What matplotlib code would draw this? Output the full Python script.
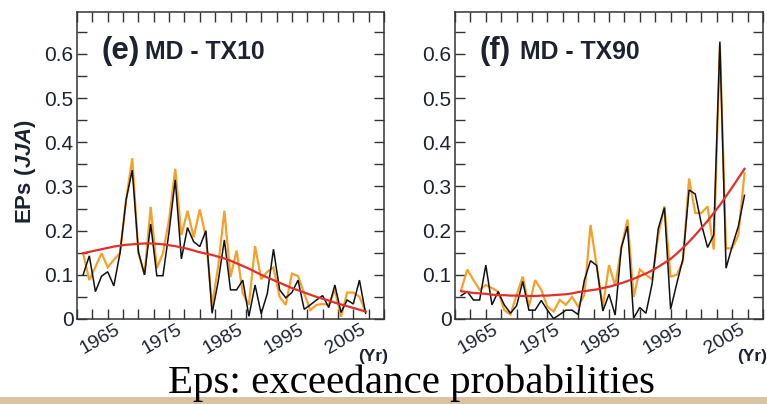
import matplotlib
matplotlib.use("Agg")
import matplotlib.pyplot as plt
from matplotlib.ticker import MultipleLocator, FixedLocator
from matplotlib.transforms import ScaledTranslation
import matplotlib.patches as mpatches

plt.rcParams['font.family'] = ['Liberation Sans', 'DejaVu Sans']
plt.rcParams['mathtext.fontset'] = 'custom'
plt.rcParams['mathtext.rm'] = 'Liberation Sans:bold'
plt.rcParams['mathtext.bf'] = 'Liberation Sans:bold'
plt.rcParams['mathtext.it'] = 'Liberation Sans:italic:bold'

years = list(range(1961, 2008))

tx10_black = [0.100, 0.143, 0.062, 0.097, 0.107, 0.075, 0.149, 0.270, 0.337, 0.152,
              0.100, 0.215, 0.098, 0.098, 0.198, 0.315, 0.136, 0.207, 0.175, 0.164,
              0.200, 0.013, 0.085, 0.179, 0.066, 0.066, 0.088, 0.006, 0.077, 0.012,
              0.058, 0.158, 0.066, 0.048, 0.060, 0.088, 0.022, 0.032, 0.043, 0.053,
              0.026, 0.077, 0.015, 0.043, 0.034, 0.088, 0.013]
tx10_orange = [0.149, 0.088, 0.118, 0.149, 0.117, 0.134, 0.149, 0.270, 0.364, 0.150,
               0.100, 0.254, 0.115, 0.149, 0.225, 0.340, 0.190, 0.245, 0.185, 0.248,
               0.185, 0.030, 0.120, 0.245, 0.095, 0.155, 0.058, 0.032, 0.165, 0.090,
               0.107, 0.117, 0.050, 0.032, 0.103, 0.097, 0.058, 0.020, 0.032, 0.034,
               0.032, 0.066, 0.005, 0.060, 0.060, 0.050, 0.017]
tx10_trend = [0.149, 0.152, 0.155, 0.158, 0.161, 0.164, 0.166, 0.168, 0.169, 0.170,
              0.171, 0.171, 0.170, 0.169, 0.167, 0.165, 0.162, 0.159, 0.155, 0.151,
              0.148, 0.145, 0.141, 0.137, 0.132, 0.126, 0.120, 0.114, 0.107, 0.100,
              0.094, 0.088, 0.082, 0.076, 0.070, 0.065, 0.060, 0.055, 0.050, 0.046,
              0.042, 0.037, 0.033, 0.029, 0.025, 0.021, 0.017]

tx90_black = [0.053, 0.062, 0.043, 0.043, 0.122, 0.032, 0.062, 0.032, 0.013, 0.030,
              0.085, 0.020, 0.020, 0.042, 0.020, 0.001, 0.010, 0.020, 0.020, 0.010,
              0.088, 0.132, 0.121, 0.018, 0.056, 0.009, 0.162, 0.210, 0.002, 0.026,
              0.013, 0.080, 0.205, 0.252, 0.022, 0.080, 0.136, 0.292, 0.283, 0.215,
              0.162, 0.190, 0.628, 0.115, 0.165, 0.210, 0.280]
tx90_orange = [0.066, 0.112, 0.088, 0.066, 0.077, 0.070, 0.062, 0.020, 0.010, 0.054,
               0.096, 0.028, 0.088, 0.066, 0.028, 0.017, 0.043, 0.032, 0.050, 0.028,
               0.055, 0.213, 0.120, 0.028, 0.122, 0.075, 0.160, 0.225, 0.050, 0.112,
               0.100, 0.090, 0.190, 0.255, 0.096, 0.100, 0.130, 0.318, 0.240, 0.240,
               0.255, 0.157, 0.620, 0.160, 0.160, 0.190, 0.330]
tx90_trend = [0.063, 0.061, 0.059, 0.058, 0.057, 0.055, 0.054, 0.054, 0.053, 0.053,
              0.052, 0.052, 0.052, 0.053, 0.053, 0.054, 0.055, 0.056, 0.058, 0.061,
              0.063, 0.065, 0.067, 0.070, 0.073, 0.077, 0.081, 0.086, 0.091, 0.097,
              0.103, 0.110, 0.118, 0.127, 0.136, 0.148, 0.161, 0.175, 0.190, 0.206,
              0.222, 0.240, 0.258, 0.278, 0.298, 0.319, 0.340]

panels = [("(e)", "MD - TX10", tx10_black, tx10_orange, tx10_trend),
          ("(f)", "MD - TX90", tx90_black, tx90_orange, tx90_trend)]

xticks_major = [1965, 1975, 1985, 1995, 2005]
yticks_major = [0, 0.1, 0.2, 0.3, 0.4, 0.5, 0.6]
ytick_labels = ["0", "0.1", "0.2", "0.3", "0.4", "0.5", "0.6"]

W, H = 767, 404
fig = plt.figure(figsize=(W / 100, H / 100), dpi=100)

axes_px = [(77, 384), (455, 763)]
top_px, bot_px = 12, 319
TXT = '#1c2230'
ORANGE = '#f5a02a'
RED = '#e0302c'

for (lft, rgt), (lab, name, blk, org, trd) in zip(axes_px, panels):
    ax = fig.add_axes([lft / W, (H - bot_px) / H, (rgt - lft) / W, (bot_px - top_px) / H])
    ax.plot(years, org, color=ORANGE, lw=1.6, solid_joinstyle='miter', zorder=2)
    ax.plot(years, blk, color='#111111', lw=1.1, solid_joinstyle='miter', zorder=3)
    ax.plot(years, trd, color=RED, lw=1.6, zorder=4)
    ax.set_xlim(1960, 2010)
    ax.set_ylim(0, 0.695)
    ax.xaxis.set_major_locator(FixedLocator(xticks_major))
    ax.xaxis.set_minor_locator(MultipleLocator(2.5))
    ax.set_yticks(yticks_major)
    ax.set_yticklabels(ytick_labels)
    ax.yaxis.set_minor_locator(MultipleLocator(0.05))
    ax.tick_params(which='both', direction='in', top=True, right=True,
                   length=7, width=1.0, color='#333333')
    ax.tick_params(axis='y', labelsize=15, pad=2.5, labelcolor=TXT)
    ax.tick_params(axis='x', labelsize=14, pad=2, labelcolor=TXT)
    for sp in ax.spines.values():
        sp.set_linewidth(1.1)
        sp.set_color('#333333')
    off = ScaledTranslation(-0.075, 0.01, fig.dpi_scale_trans)
    for t in ax.get_xticklabels():
        t.set_rotation(30)
        t.set_ha('center')
        t.set_transform(t.get_transform() + off)
    fig.text((lft + 24.5) / W, (H - 59) / H, lab, fontsize=22.5, fontweight='bold',
             color=TXT, va='baseline', ha='left')
    fig.text((lft + 68) / W if lab == "(e)" else (lft + 65) / W, (H - 59) / H, name,
             fontsize=17.8, fontweight='bold', color=TXT, va='baseline', ha='left')
    fig.text((rgt - 11) / W, (H - 357) / H, "(Yr)", fontsize=12.5, fontweight='bold',
             color=TXT, va='center', ha='center')

fig.text(26 / W, (H - 171) / H, r'$\mathbf{EPs\ (}\mathit{JJA}\mathbf{)}$',
         fontsize=16, rotation=90, color=TXT, va='center', ha='center')

fig.text(411 / W, (H - 393) / H, "Eps: exceedance probabilities",
         family=['Liberation Serif', 'DejaVu Serif'], fontsize=29.5, color='black',
         va='baseline', ha='center')

fig.patches.append(mpatches.Rectangle((0, 0), 1, 7 / H, transform=fig.transFigure,
                                      facecolor='#d8c4a2', edgecolor='none', zorder=0))

fig.savefig("out.png", dpi=100)
